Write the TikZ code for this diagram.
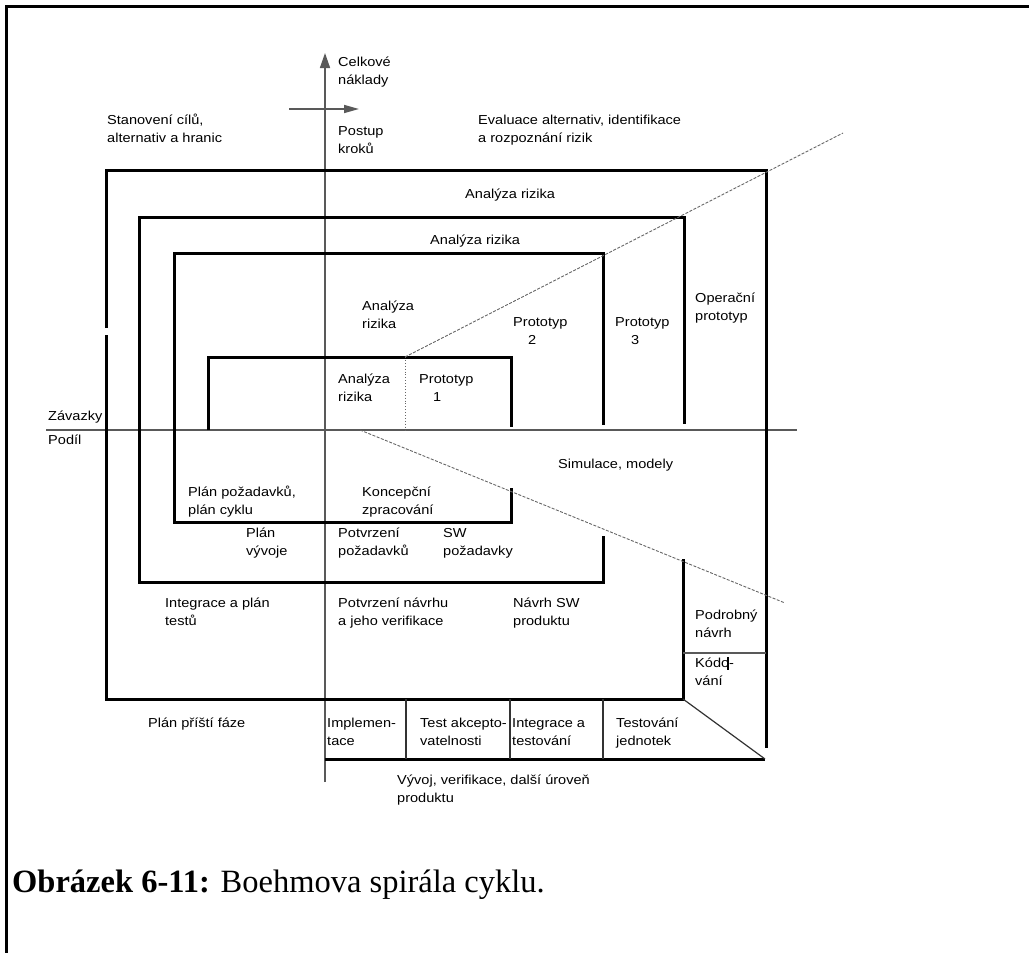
\documentclass[tikz,border=0pt]{standalone}
\usepackage{fontspec}
\setmainfont{Liberation Serif}
\newfontfamily\diagfont{Liberation Sans}[FakeStretch=1.12]
\usepackage{tikz}
\usetikzlibrary{arrows.meta}

\begin{document}
\begin{tikzpicture}[x=1pt,y=-1pt,
    lbl/.style={font=\diagfont\fontsize{13}{18.5}\selectfont,inner sep=0pt,anchor=base west,align=left},
    spiral/.style={line width=3pt,line join=miter},
    axis/.style={draw=black!65,line width=1.5pt},
    thin/.style={draw=black!80,line width=1.2pt},
    split/.style={draw=black!60,line width=0.9pt,dash pattern=on 3pt off 1.5pt}]
  \useasboundingbox (0,0) rectangle (1029,953);
  \draw[line width=3pt] (6,953) -- (6,6) -- (1029,6);

  % axes
  \coordinate (ytop) at (325,53);
  \coordinate (ybot) at (325,782);
  \coordinate (xl) at (46,430);
  \coordinate (xr) at (797,430);
  \draw[axis,-{Triangle[length=15pt,width=10pt]}] (ybot) -- (ytop);
  \draw[axis] (xl) -- (xr);
  \coordinate (s1) at (289,109);
  \coordinate (s2) at (359,109);
  \draw[axis,-{Triangle[length=15pt,width=8pt]}] (s1) -- (s2);

  % the spiral, outer turn first
  \draw[spiral] (106,328) -- (106,170) -- (766,170) -- (766,748);
  \draw[spiral] (106,335) -- (106,699) -- (683,699) -- (683,559);
  \draw[spiral] (603,536) -- (603,582) -- (139,582) -- (139,217) -- (684,217) -- (684,424);
  \draw[spiral] (511,488) -- (511,522) -- (174,522) -- (174,253) -- (603,253) -- (603,425);
  \draw[spiral] (208,430) -- (208,357) -- (511,357) -- (511,427);

  % phase boxes at the bottom
  \draw[spiral] (325,759) -- (765,759);
  \foreach \x in {406,510,603}
    \draw[thin] (\x,699) -- (\x,759);
  \draw[thin] (683,699) -- (765,759);
  \draw[axis] (683,653) -- (766,653);
  \draw[line width=2.5pt] (728,657) -- (728,670);

  % split lines
  \coordinate (p1) at (405,357);
  \coordinate (p2) at (843,133);
  \coordinate (q1) at (360,430);
  \coordinate (q2) at (785,603);
  \draw[split] (p1) -- (p2);
  \draw[split] (q1) -- (q2);
  \draw[black!60,line width=0.9pt,dotted] (p1) -- (405,430);

  % labels (base = last line)
  \node[lbl] (celk) at (338,84.5) {Celkové\\náklady};
  \node[lbl] (postup) at (338,153.5) {Postup\\kroků};
  \node[lbl] (cile) at (107,142.5) {Stanovení cílů,\\alternativ a hranic};
  \node[lbl] (eval) at (478,142.5) {Evaluace alternativ, identifikace\\a rozpoznání rizik};
  \node[lbl] (ar4) at (465,198) {Analýza rizika};
  \node[lbl] (ar3) at (430,244) {Analýza rizika};
  \node[lbl] (ar2) at (362,328.5) {Analýza\\rizika};
  \node[lbl] (ar1) at (338,401.5) {Analýza\\rizika};
  \node[lbl] (proto1) at (419,401.5) {Prototyp\\\hspace*{14pt}1};
  \node[lbl] (proto2) at (513,344.5) {Prototyp\\\hspace*{15pt}2};
  \node[lbl] (proto3) at (615,344.5) {Prototyp\\\hspace*{16pt}3};
  \node[lbl] (oper) at (695,320.5) {Operační\\prototyp};
  \node[lbl] (zav) at (48,420) {Závazky};
  \node[lbl] (podil) at (48,444) {Podíl};
  \node[lbl] (sim) at (558,468) {Simulace, modely};
  \node[lbl] (planpoz) at (188,514.5) {Plán požadavků,\\plán cyklu};
  \node[lbl] (konc) at (362,514.5) {Koncepční\\zpracování};
  \node[lbl] (planvyv) at (246,555.5) {Plán\\vývoje};
  \node[lbl] (potvpoz) at (338,555.5) {Potvrzení\\požadavků};
  \node[lbl] (swpoz) at (443,555.5) {SW\\požadavky};
  \node[lbl] (integ) at (165,625.5) {Integrace a plán\\testů};
  \node[lbl] (potvnav) at (338,625.5) {Potvrzení návrhu\\a jeho verifikace};
  \node[lbl] (navrhsw) at (513,625.5) {Návrh SW\\produktu};
  \node[lbl] (podr) at (695,637.5) {Podrobný\\návrh};
  \node[lbl] (kod) at (695,685.5) {Kódo-\\vání};
  \node[lbl] (planpf) at (148,727) {Plán příští fáze};
  \node[lbl] (impl) at (327,745.5) {Implemen-\\tace};
  \node[lbl] (akc) at (420,745.5) {Test akcepto-\\vatelnosti};
  \node[lbl] (integt) at (512,745.5) {Integrace a\\testování};
  \node[lbl] (testj) at (616,745.5) {Testování\\jednotek};
  \node[lbl] (vyvoj) at (397,802.5) {Vývoj, verifikace, další úroveň\\produktu};

  \node[inner sep=0pt,anchor=base west,font=\fontsize{32.5}{36}\selectfont] (cap) at (12,892)
    {\textbf{Obrázek 6-11:} Boehmova spirála cyklu.};
\end{tikzpicture}
\end{document}
